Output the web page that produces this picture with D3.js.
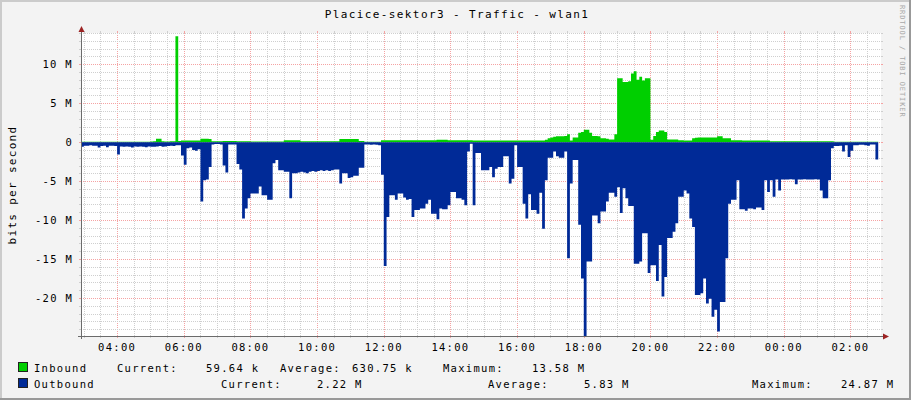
<!DOCTYPE html>
<html><head><meta charset="utf-8">
<script src="https://cdn.jsdelivr.net/npm/d3@7/dist/d3.min.js"></script>
<style>
html,body{margin:0;padding:0;background:#f3f3f3;}
svg{display:block;}
text{font-family:"DejaVu Sans Mono",monospace;fill:#000;}
</style>
</head><body>
<svg id="chart" width="911" height="400"></svg>
<script>
// ---------------- data ----------------
const title = "Placice-sektor3 - Traffic - wlan1";
const yAxisTitle = "bits per second";
const watermark = "RRDTOOL / TOBI OETIKER";
const startHour = 2, startMinute = 55, stepMinutes = 5, spanHours = 24;

// Inbound traffic, Mbit/s, one value per 5 minutes from 02:55
const inbound = [
 0.05,0.06,0.05,0.04,0.05,0.06,0.05,0.05,0.04,0.05,
 0.06,0.05,0.05,0.04,0.05,0.05,0.06,0.05,0.04,0.05,
 0.05,0.06,0.05,0.05,0.06,0.08,0.10,0.45,0.45,0.10,
 0.08,0.08,0.10,0.12,13.58,0.15,0.20,0.20,0.22,0.20,
 0.20,0.22,0.20,0.45,0.45,0.45,0.40,0.10,0.10,0.10,
 0.10,0.15,0.15,0.15,0.15,0.15,0.10,0.10,0.10,0.10,
 0.10,0.08,0.08,0.08,0.08,0.08,0.08,0.08,0.08,0.08,
 0.08,0.08,0.08,0.25,0.25,0.25,0.25,0.25,0.25,0.10,
 0.10,0.10,0.10,0.10,0.10,0.10,0.10,0.10,0.10,0.10,
 0.10,0.10,0.10,0.40,0.40,0.40,0.40,0.40,0.40,0.40,
 0.15,0.15,0.05,0.05,0.05,0.05,0.05,0.05,0.25,0.25,
 0.25,0.25,0.25,0.25,0.25,0.25,0.25,0.25,0.25,0.25,
 0.25,0.25,0.25,0.25,0.25,0.25,0.25,0.25,0.32,0.32,
 0.32,0.32,0.25,0.25,0.25,0.25,0.25,0.25,0.25,0.25,
 0.25,0.20,0.20,0.20,0.20,0.20,0.20,0.20,0.20,0.20,
 0.20,0.20,0.20,0.20,0.20,0.20,0.20,0.20,0.20,0.20,
 0.20,0.20,0.20,0.20,0.20,0.20,0.20,0.30,0.50,0.60,
 0.70,0.75,0.77,0.77,0.80,1.00,0.20,0.60,0.60,1.20,
 1.30,1.60,1.60,1.20,0.80,0.80,0.75,0.50,0.50,0.45,
 0.35,0.35,1.00,8.20,8.20,7.70,7.70,7.80,8.80,9.10,
 8.00,8.40,7.90,8.20,8.20,0.30,0.80,1.30,1.50,1.50,
 1.30,0.35,0.35,0.35,0.35,0.25,0.25,0.20,0.20,0.20,
 0.50,0.55,0.60,0.60,0.60,0.60,0.60,0.60,0.60,0.77,
 0.77,0.50,0.50,0.50,0.25,0.25,0.25,0.25,0.20,0.20,
 0.20,0.20,0.20,0.20,0.20,0.20,0.20,0.20,0.12,0.12,
 0.12,0.12,0.12,0.12,0.12,0.12,0.12,0.12,0.12,0.12,
 0.12,0.12,0.12,0.12,0.12,0.12,0.12,0.12,0.12,0.12,
 0.12,0.06,0.06,0.06,0.06,0.06,0.06,0.06,0.06,0.06,
 0.06,0.06,0.06,0.06,0.06,0.06,0.06
];

// Outbound traffic, Mbit/s (drawn below zero), one value per 5 minutes from 02:55
const outbound = [
 0.6,0.45,0.45,0.4,0.45,0.45,0.7,0.5,0.45,0.65,
 0.45,0.45,0.5,1.6,0.55,0.6,0.55,0.6,0.7,0.55,
 0.6,0.55,0.6,0.65,0.55,0.6,0.6,0.55,0.5,0.6,
 0.55,0.5,0.45,0.5,0.4,0.4,1.7,2.9,0.8,0.7,
 1.0,1.1,0.9,7.6,4.9,4.8,3.2,0.3,0.25,0.25,
 0.3,3.0,3.9,0.3,0.3,0.3,2.8,3.5,9.8,8.5,
 7.2,6.6,6.6,6.6,5.7,6.8,6.8,7.4,7.4,2.7,
 2.3,3.6,3.6,3.8,3.8,7.2,4.0,4.0,3.9,3.8,
 3.9,4.0,3.8,3.7,3.8,3.7,3.6,3.7,3.6,3.7,
 3.6,3.5,3.5,5.3,4.0,4.0,4.6,4.5,4.3,4.3,
 3.3,3.3,0.3,0.3,0.35,0.3,0.35,0.4,4.2,15.9,
 9.6,6.8,6.8,7.4,6.6,6.6,7.1,7.4,7.3,9.6,
 8.7,8.7,8.5,8.5,7.9,7.4,9.2,9.2,9.9,8.5,
 8.6,8.6,8.1,6.4,6.4,7.2,7.2,7.4,8.1,1.2,
 0.2,8.1,1.4,1.4,3.6,3.6,3.6,3.2,4.5,3.4,
 3.2,3.2,1.8,1.8,5.3,4.7,0.4,3.2,3.2,7.9,
 9.8,6.7,8.7,8.7,9.2,6.5,11.1,4.9,2.0,2.0,
 1.2,1.8,2.0,2.0,1.2,14.9,5.3,2.3,2.3,10.6,
 17.5,24.87,15.3,15.3,9.4,9.4,10.4,8.9,8.9,7.6,
 6.5,6.5,7.0,5.8,9.1,5.9,7.2,8.2,8.2,15.6,
 15.6,15.3,11.7,11.7,16.8,15.8,15.8,17.8,13.2,19.8,
 17.3,12.3,12.3,11.5,10.4,7.0,7.0,6.2,6.6,9.8,
 10.9,19.6,19.6,19.4,17.5,20.7,20.1,22.4,21.5,24.3,
 20.5,20.5,14.9,7.9,7.4,7.4,4.9,8.6,8.6,8.8,
 8.5,8.5,8.6,8.4,8.4,8.7,4.9,6.4,4.9,7.0,
 4.8,6.2,4.8,4.8,4.8,4.75,4.8,5.4,4.8,4.8,
 4.75,4.8,4.8,4.8,4.75,4.8,6.2,7.2,7.2,4.9,
 0.8,0.5,0.5,0.45,1.2,0.4,1.9,1.1,0.4,0.4,
 0.35,0.35,0.4,0.45,0.3,0.3,2.22
];

const xTickLabels = ["04:00","06:00","08:00","10:00","12:00","14:00","16:00","18:00","20:00","22:00","00:00","02:00"];
const yTickValues = [10,5,0,-5,-10,-15,-20];
const yTickLabels = ["10 M","5 M","0","-5 M","-10 M","-15 M","-20 M"];
const yMin = -24.87, yMax = 14.0;

const seriesNames = ["Inbound","Outbound"];
const seriesColors = ["#00cf00","#002a97"];
const currentValues = ["59.64 k","2.22 M"];
const averageValues = ["630.75 k","5.83 M"];
const maximumValues = ["13.58 M","24.87 M"];

// ---------------- drawing ----------------
const W = 911, H = 400;
const plot = {left:81, right:881, top:33, bottom:336};
const svg = d3.select("#chart");

const t0 = new Date(2024,0,1,startHour,startMinute);
const t1 = d3.timeHour.offset(t0, spanHours);
const timeAt = i => d3.timeMinute.offset(t0, i*stepMinutes);

const x = d3.scaleTime().domain([t0,t1]).range([plot.left, plot.right]);
const y = d3.scaleLinear().domain([yMin,yMax]).range([plot.bottom, plot.top]);

// background + 3D frame
svg.append("rect").attr("width",W).attr("height",H).attr("fill","#f3f3f3");
svg.append("rect").attr("x",0).attr("y",0).attr("width",W).attr("height",2).attr("fill","#cbcbcb");
svg.append("rect").attr("x",0).attr("y",0).attr("width",2).attr("height",H).attr("fill","#cbcbcb");
svg.append("rect").attr("x",W-2).attr("y",0).attr("width",2).attr("height",H).attr("fill","#999");
svg.append("rect").attr("x",0).attr("y",H-2).attr("width",W).attr("height",2).attr("fill","#999");

// canvas
svg.append("rect").attr("x",plot.left).attr("y",plot.top)
  .attr("width",plot.right-plot.left).attr("height",plot.bottom-plot.top).attr("fill","#fff");

const gGrid = svg.append("g").attr("shape-rendering","crispEdges");
const minorColor = "#cfcfcf", majorColor = "#f5a3a3";

// vertical grid
const halfHours = d3.timeMinute.every(30).range(t0, t1);
halfHours.forEach(t => {
  const isMajor = t.getMinutes()===0 && t.getHours()%2===0;
  const xx = Math.round(x(t))+0.5;
  gGrid.append("line").attr("x1",xx).attr("x2",xx).attr("y1",plot.top).attr("y2",plot.bottom)
    .attr("stroke",isMajor?majorColor:minorColor).attr("stroke-dasharray","1,1");
  gGrid.append("line").attr("x1",xx).attr("x2",xx).attr("y1",plot.bottom).attr("y2",plot.bottom+2)
    .attr("stroke",isMajor?majorColor:minorColor);
  gGrid.append("line").attr("x1",xx).attr("x2",xx).attr("y1",plot.top-2).attr("y2",plot.top)
    .attr("stroke",isMajor?majorColor:minorColor);
});
// horizontal grid
d3.range(Math.ceil(yMin), Math.floor(yMax)+1).forEach(v => {
  const isMajor = v%5===0;
  const yy = Math.round(y(v))+0.5;
  gGrid.append("line").attr("x1",plot.left).attr("x2",plot.right).attr("y1",yy).attr("y2",yy)
    .attr("stroke",isMajor?majorColor:minorColor).attr("stroke-dasharray","1,1");
  gGrid.append("line").attr("x1",plot.left-2).attr("x2",plot.left).attr("y1",yy).attr("y2",yy)
    .attr("stroke",isMajor?majorColor:minorColor);
  gGrid.append("line").attr("x1",plot.right).attr("x2",plot.right+2).attr("y1",yy).attr("y2",yy)
    .attr("stroke",isMajor?majorColor:minorColor);
});

// areas
function seriesPoints(arr, sign){
  const pts = arr.map((v,i)=>({t:timeAt(i), v:sign*v}));
  pts.push({t:timeAt(arr.length), v:sign*arr[arr.length-1]}); // close the last step
  return pts;
}
const area = d3.area().curve(d3.curveStepAfter)
  .x(d=>x(d.t)).y0(y(0)).y1(d=>y(d.v));
svg.append("path").datum(seriesPoints(inbound,1)).attr("d",area)
  .attr("fill",seriesColors[0]);
svg.append("path").datum(seriesPoints(outbound,-1)).attr("d",area)
  .attr("fill",seriesColors[1]);

// axes lines + arrows
const axisColor = "#6b6b6b", arrowColor = "#9c2323";
svg.append("line").attr("x1",plot.left-3).attr("x2",plot.right+3).attr("y1",plot.bottom+0.5).attr("y2",plot.bottom+0.5)
  .attr("stroke",axisColor).attr("shape-rendering","crispEdges");
svg.append("line").attr("x1",plot.left+0.5).attr("x2",plot.left+0.5).attr("y1",plot.bottom+3).attr("y2",plot.top-3)
  .attr("stroke",axisColor).attr("shape-rendering","crispEdges");
svg.append("path").attr("d",`M${plot.right+2},${plot.bottom-2.5}L${plot.right+8},${plot.bottom+0.5}L${plot.right+2},${plot.bottom+3.5}Z`).attr("fill",arrowColor);
svg.append("path").attr("d",`M${plot.left-2.5},${plot.top-1}L${plot.left+0.5},${plot.top-7}L${plot.left+3.5},${plot.top-1}Z`).attr("fill",arrowColor);

// x tick labels
const labelFont = 10.5, spacing = 1.3;
xTickLabels.forEach(lbl => {
  const [hh,mm] = lbl.split(":").map(Number);
  let t = new Date(2024,0,1,hh,mm);
  if (t < t0) t = d3.timeDay.offset(t,1);
  svg.append("text").attr("x",x(t)).attr("y",351)
    .attr("text-anchor","middle").attr("font-size",labelFont).attr("letter-spacing",spacing)
    .text(lbl);
});
// y tick labels
yTickValues.forEach((v,i) => {
  svg.append("text").attr("x",73).attr("y",y(v)+4)
    .attr("text-anchor","end").attr("font-size",labelFont).attr("letter-spacing",spacing)
    .text(yTickLabels[i]);
});

// title
svg.append("text").attr("x",457).attr("y",18).attr("text-anchor","middle")
  .attr("font-size",11).attr("letter-spacing",1.4).text(title);
// y axis title
svg.append("text").attr("transform","translate(16,185) rotate(-90)").attr("text-anchor","middle")
  .attr("font-size",11).attr("letter-spacing",1.3).text(yAxisTitle);
// watermark
svg.append("text").attr("transform","translate(900,5) rotate(90)").attr("text-anchor","start")
  .attr("font-size",7).attr("letter-spacing",0.9).style("fill","#a8a8a8").text(watermark);

// legend
const legendRows = [
  {y:372, items:[[34,seriesNames[0]],[117,"Current:"],[206,currentValues[0]],[280,"Average:"],[352,averageValues[0]],[443,"Maximum:"],[532,maximumValues[0]]]},
  {y:388, items:[[34,seriesNames[1]],[221,"Current:"],[317,currentValues[1]],[488,"Average:"],[584,averageValues[1]],[752,"Maximum:"],[841,maximumValues[1]]]}
];
legendRows.forEach((row,r) => {
  svg.append("rect").attr("x",18.5).attr("y",row.y-9.5).attr("width",9).attr("height",9)
    .attr("fill",seriesColors[r]).attr("stroke","#222").attr("shape-rendering","crispEdges");
  row.items.forEach(([lx,txt]) => {
    svg.append("text").attr("x",lx).attr("y",row.y).attr("font-size",labelFont)
      .attr("letter-spacing",spacing).text(txt);
  });
});
</script>
</body></html>
